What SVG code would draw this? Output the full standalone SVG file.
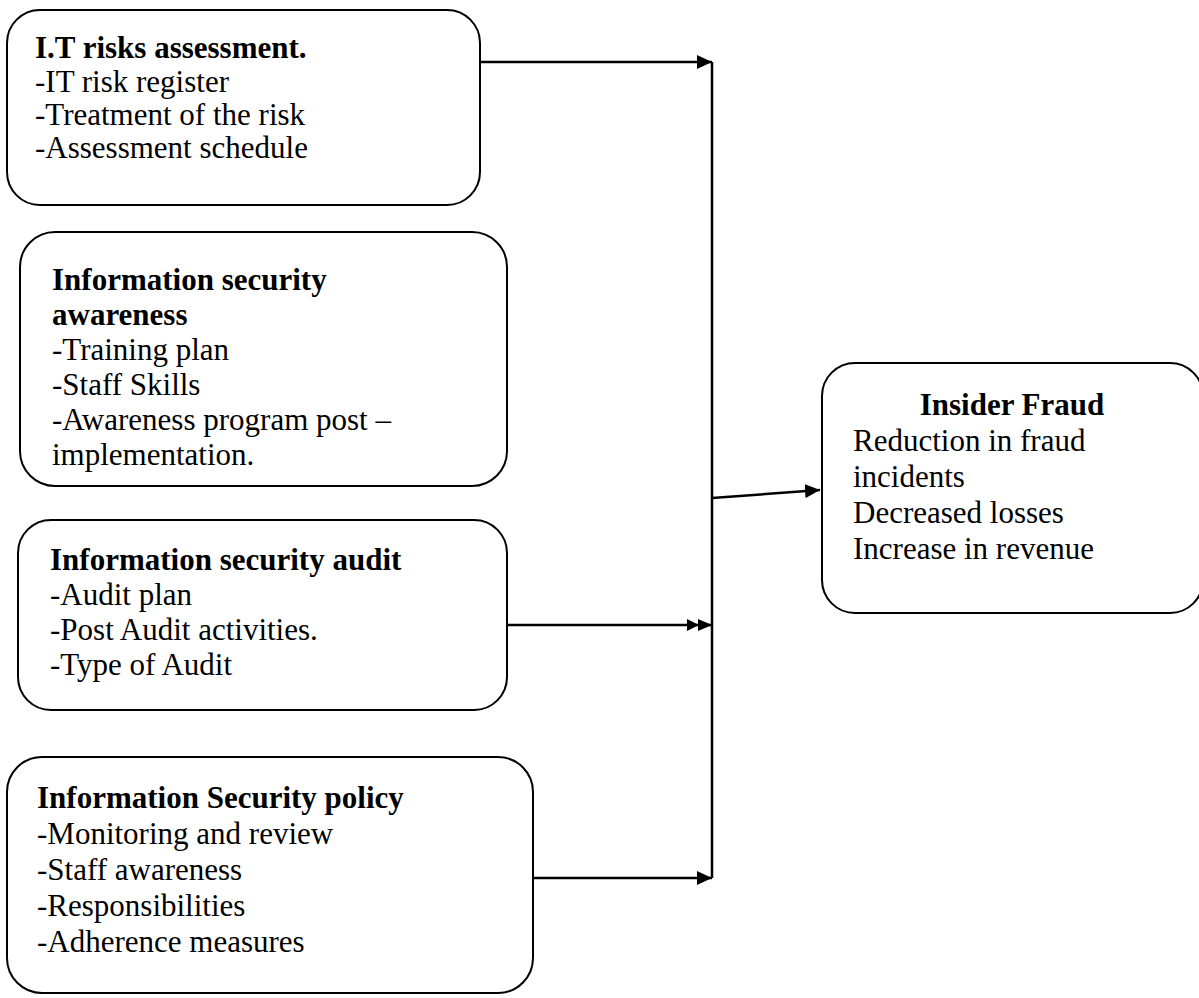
<svg xmlns="http://www.w3.org/2000/svg" width="1199" height="998" viewBox="0 0 1199 998">
<style>
.box{fill:#fff;stroke:#000;stroke-width:2}
.t{font-family:"Liberation Serif","Times New Roman",serif;font-size:31px;fill:#000}
.b{font-weight:bold}
.c{fill:none;stroke:#000;stroke-width:2.5}
</style>
<defs>
<marker id="ah" markerWidth="16" markerHeight="14" refX="15" refY="7" orient="auto" markerUnits="userSpaceOnUse">
<path d="M0,0 L15,7 L0,14 Z" fill="#000"/>
</marker>
<marker id="ah2" markerWidth="26" markerHeight="14" refX="25" refY="7" orient="auto" markerUnits="userSpaceOnUse">
<path d="M0,1 L12,7 L0,13 Z M11,1 L25,7 L11,13 Z" fill="#000"/>
</marker>
</defs>
<rect width="1199" height="998" fill="#fff"/>
<g id="it-risks">
<rect class="box" x="7" y="10" width="473" height="195" rx="33"/>
<text class="t" x="35" y="58"><tspan class="b">I.T risks assessment.</tspan><tspan x="35" y="92">-IT risk register</tspan><tspan x="35" y="125">-Treatment of the risk</tspan><tspan x="35" y="158">-Assessment schedule</tspan></text>
</g>
<g id="awareness">
<rect class="box" x="20" y="232" width="487" height="254" rx="35"/>
<text class="t" x="52" y="290"><tspan class="b">Information security</tspan><tspan class="b" x="52" y="325">awareness</tspan><tspan x="52" y="360">-Training plan</tspan><tspan x="52" y="395">-Staff Skills</tspan><tspan x="52" y="430">-Awareness program post –</tspan><tspan x="52" y="465">implementation.</tspan></text>
</g>
<g id="audit">
<rect class="box" x="18" y="520" width="489" height="190" rx="33"/>
<text class="t" x="50" y="570"><tspan class="b">Information security audit</tspan><tspan x="50" y="605">-Audit plan</tspan><tspan x="50" y="640">-Post Audit activities.</tspan><tspan x="50" y="675">-Type of Audit</tspan></text>
</g>
<g id="policy">
<rect class="box" x="7" y="757" width="526" height="236" rx="35"/>
<text class="t" x="37" y="808"><tspan class="b">Information Security policy</tspan><tspan x="37" y="844">-Monitoring and review</tspan><tspan x="37" y="880">-Staff awareness</tspan><tspan x="37" y="916">-Responsibilities</tspan><tspan x="37" y="952">-Adherence measures</tspan></text>
</g>
<g id="insider-fraud">
<rect class="box" x="822" y="363" width="381" height="250" rx="33"/>
<text class="t" x="1012" y="415" text-anchor="middle" font-weight="bold">Insider Fraud</text>
<text class="t" x="853" y="451">Reduction in fraud<tspan x="853" y="487">incidents</tspan><tspan x="853" y="523">Decreased losses</tspan><tspan x="853" y="559">Increase in revenue</tspan></text>
</g>
<g id="connectors">
<line class="c" x1="712" y1="62" x2="712" y2="878"/>
<line class="c" x1="480" y1="62" x2="712" y2="62" marker-end="url(#ah)"/>
<line class="c" x1="507" y1="625" x2="712" y2="625" marker-end="url(#ah2)"/>
<line class="c" x1="533" y1="878" x2="712" y2="878" marker-end="url(#ah)"/>
<line class="c" x1="712" y1="498" x2="820" y2="490" marker-end="url(#ah)"/>
</g>
</svg>
